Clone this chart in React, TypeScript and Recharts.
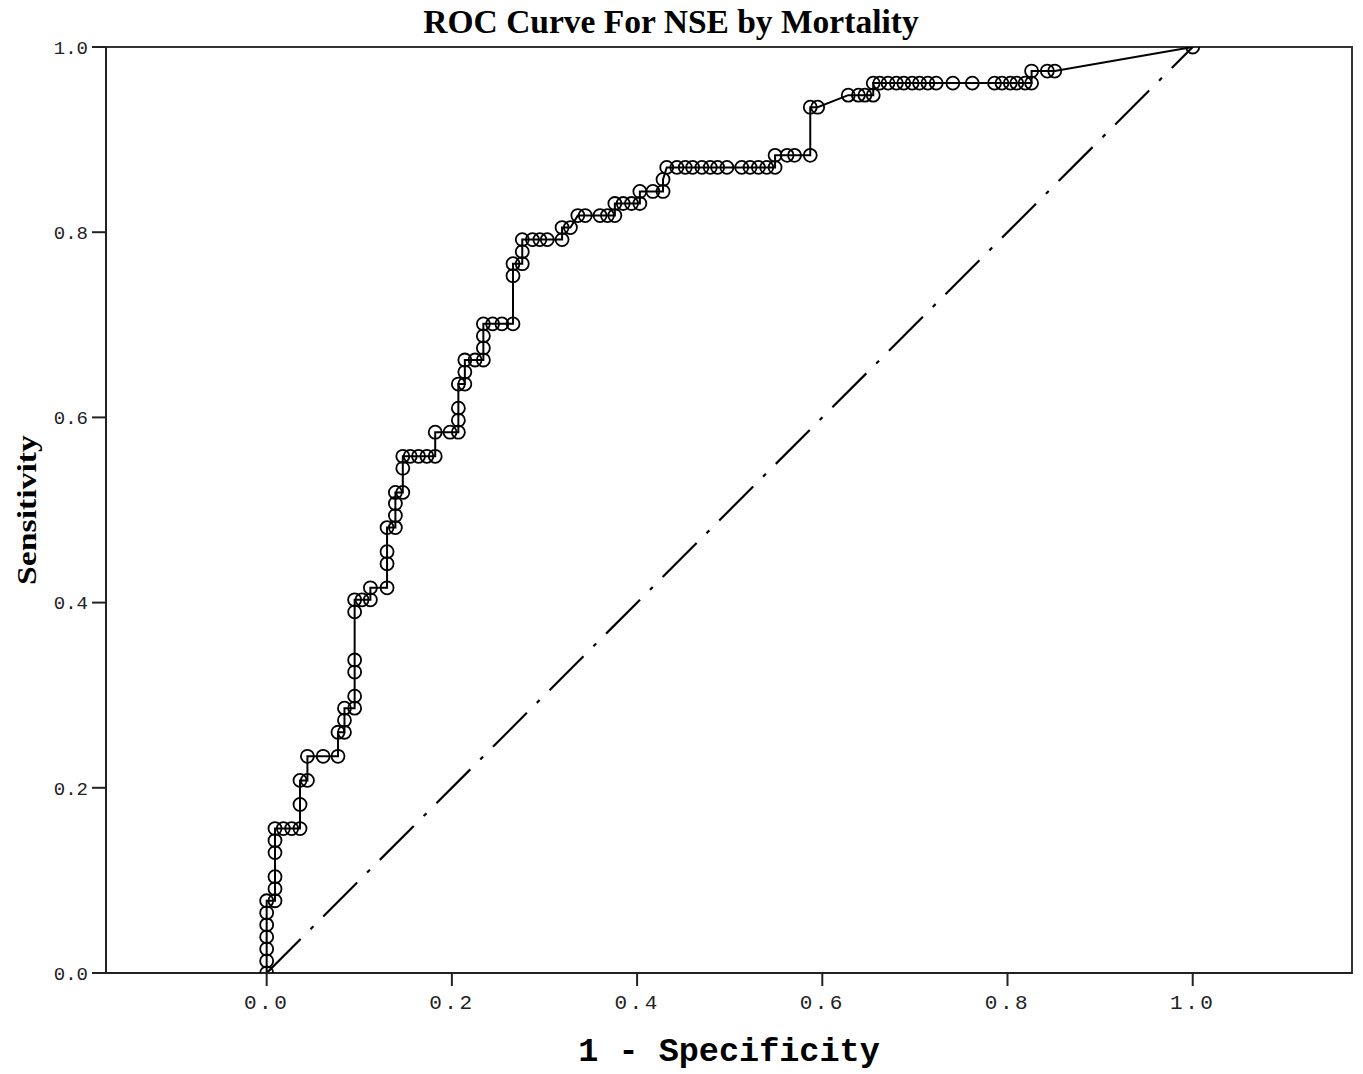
import React from 'react';
import { LineChart, Line, XAxis, YAxis, ReferenceArea, Label } from 'recharts';

// ROC curve points (1 - specificity, sensitivity)
const fprValues = [
  0, 0, 0, 0, 0, 0, 0,
  0.009, 0.009, 0.009, 0.009, 0.009, 0.009,
  0.018, 0.027, 0.036, 0.036, 0.036,
  0.044, 0.044, 0.061, 0.077, 0.077,
  0.084, 0.084, 0.084,
  0.095, 0.095, 0.095, 0.095, 0.095, 0.095,
  0.103, 0.112, 0.112, 0.13, 0.13, 0.13, 0.13,
  0.139, 0.139, 0.139, 0.139,
  0.147, 0.147, 0.147,
  0.155, 0.164, 0.173, 0.182, 0.182,
  0.198, 0.207, 0.207, 0.207, 0.207,
  0.214, 0.214, 0.214,
  0.225, 0.234, 0.234, 0.234, 0.234,
  0.244, 0.254, 0.266, 0.266, 0.266,
  0.276, 0.276, 0.276,
  0.287, 0.295, 0.303, 0.319, 0.319,
  0.328, 0.336, 0.344, 0.36, 0.368, 0.376, 0.376,
  0.385, 0.394, 0.403, 0.403,
  0.417, 0.428, 0.428, 0.432,
  0.443, 0.452, 0.46, 0.47, 0.479, 0.487, 0.497, 0.513, 0.522, 0.531, 0.54, 0.549,
  0.549, 0.562, 0.57, 0.587, 0.587, 0.595,
  0.628, 0.639, 0.646, 0.655, 0.655,
  0.662, 0.671, 0.68, 0.688, 0.697, 0.705, 0.714, 0.723, 0.741, 0.762,
  0.786, 0.794, 0.803, 0.81, 0.819, 0.826, 0.826,
  0.843, 0.851, 1.0,
];
const tprValues = [
  0, 0.013, 0.026, 0.039, 0.052, 0.065, 0.078,
  0.078, 0.091, 0.104, 0.13, 0.143, 0.156,
  0.156, 0.156, 0.156, 0.182, 0.208,
  0.208, 0.234, 0.234, 0.234, 0.26,
  0.26, 0.273, 0.286,
  0.286, 0.299, 0.325, 0.338, 0.39, 0.403,
  0.403, 0.403, 0.416, 0.416, 0.442, 0.455, 0.481,
  0.481, 0.494, 0.507, 0.519,
  0.519, 0.545, 0.558,
  0.558, 0.558, 0.558, 0.558, 0.584,
  0.584, 0.584, 0.597, 0.61, 0.636,
  0.636, 0.649, 0.662,
  0.662, 0.662, 0.675, 0.688, 0.701,
  0.701, 0.701, 0.701, 0.753, 0.766,
  0.766, 0.779, 0.792,
  0.792, 0.792, 0.792, 0.792, 0.805,
  0.805, 0.818, 0.818, 0.818, 0.818, 0.818, 0.831,
  0.831, 0.831, 0.831, 0.844,
  0.844, 0.844, 0.857, 0.87,
  0.87, 0.87, 0.87, 0.87, 0.87, 0.87, 0.87, 0.87, 0.87, 0.87, 0.87, 0.87,
  0.883, 0.883, 0.883, 0.883, 0.935, 0.935,
  0.948, 0.948, 0.948, 0.948, 0.961,
  0.961, 0.961, 0.961, 0.961, 0.961, 0.961, 0.961, 0.961, 0.961, 0.961,
  0.961, 0.961, 0.961, 0.961, 0.961, 0.961, 0.974,
  0.974, 0.974, 1.0,
];
const refFpr = [0, 1];
const refTpr = [0, 1];
const xTicks = [0, 0.2, 0.4, 0.6, 0.8, 1.0];
const yTicks = [0, 0.2, 0.4, 0.6, 0.8, 1.0];
const xDomain = [-0.1735, 1.172];
const yDomain = [0, 1];
const chartTitle = 'ROC Curve For NSE by Mortality';
const xTitle = '1 - Specificity';
const yTitle = 'Sensitivity';

const rocData = fprValues.map((x, i) => ({ fpr: x, tpr: tprValues[i] }));
const refData = refFpr.map((x, i) => ({ fpr: x, tpr: refTpr[i] }));

const MONO = "'Liberation Mono', 'Courier New', monospace";
const SERIF = "'Liberation Serif', 'Times New Roman', serif";

const W = 1363;
const H = 1074;

export default function App() {
  return (
    <div style={{ position: 'absolute', left: 0, top: 0, width: W, height: H, background: '#fff' }}>
      <LineChart
        width={W}
        height={H}
        margin={{ top: 47, right: 11, bottom: 0, left: 0 }}
      >
        <text
          x={671}
          y={33}
          textAnchor="middle"
          style={{ fontFamily: SERIF, fontWeight: 'bold', fontSize: 33.5, fill: '#000' }}
        >
          {chartTitle}
        </text>
        <XAxis
          type="number"
          dataKey="fpr"
          domain={xDomain}
          ticks={xTicks}
          allowDataOverflow
          height={101}
          tickSize={13}
          tickMargin={8}
          tickFormatter={(v: number) => v.toFixed(1)}
          axisLine={{ stroke: '#222', strokeWidth: 2 }}
          tickLine={{ stroke: '#222', strokeWidth: 2 }}
          tick={{ fill: '#222', fontFamily: MONO, fontSize: 21, letterSpacing: 2.5 }}
        >
          <Label
            value={xTitle}
            position="insideBottom"
            offset={13}
            style={{ fontFamily: MONO, fontWeight: 'bold', fontSize: 33.5, fill: '#000' }}
          />
        </XAxis>
        <YAxis
          type="number"
          dataKey="tpr"
          domain={yDomain}
          ticks={yTicks}
          allowDataOverflow
          width={106}
          tickSize={14}
          tickMargin={4}
          tickFormatter={(v: number) => v.toFixed(1)}
          axisLine={{ stroke: '#222', strokeWidth: 2 }}
          tickLine={{ stroke: '#222', strokeWidth: 2 }}
          tick={{ fill: '#222', fontFamily: MONO, fontSize: 19 }}
        >
          <Label
            content={(props: any) => {
              const vb = props.viewBox || { x: 0, y: 0, width: 0, height: 0 };
              const cx = vb.x + 26;
              const cy = vb.y + vb.height / 2;
              return (
                <text
                  x={cx}
                  y={cy}
                  transform={`rotate(-90 ${cx} ${cy})`}
                  textAnchor="middle"
                  dominantBaseline="central"
                  textLength={150}
                  lengthAdjust="spacingAndGlyphs"
                  style={{ fontFamily: SERIF, fontWeight: 'bold', fontSize: 28, fill: '#000' }}
                >
                  {yTitle}
                </text>
              );
            }}
          />
        </YAxis>
        <ReferenceArea
          x1={xDomain[0]}
          x2={xDomain[1]}
          y1={yDomain[0]}
          y2={yDomain[1]}
          fill="none"
          stroke="#333"
          strokeWidth={2}
          ifOverflow="extendDomain"
        />
        <Line
          data={refData}
          dataKey="tpr"
          type="linear"
          stroke="#000"
          strokeWidth={2.2}
          strokeDasharray="48 14 4 14"
          dot={false}
          activeDot={false}
          isAnimationActive={false}
        />
        <Line
          data={rocData}
          dataKey="tpr"
          type="linear"
          stroke="#000"
          strokeWidth={2}
          dot={{ r: 6.5, fill: 'none', stroke: '#000', strokeWidth: 1.8 }}
          activeDot={false}
          isAnimationActive={false}
        />
      </LineChart>
    </div>
  );
}
